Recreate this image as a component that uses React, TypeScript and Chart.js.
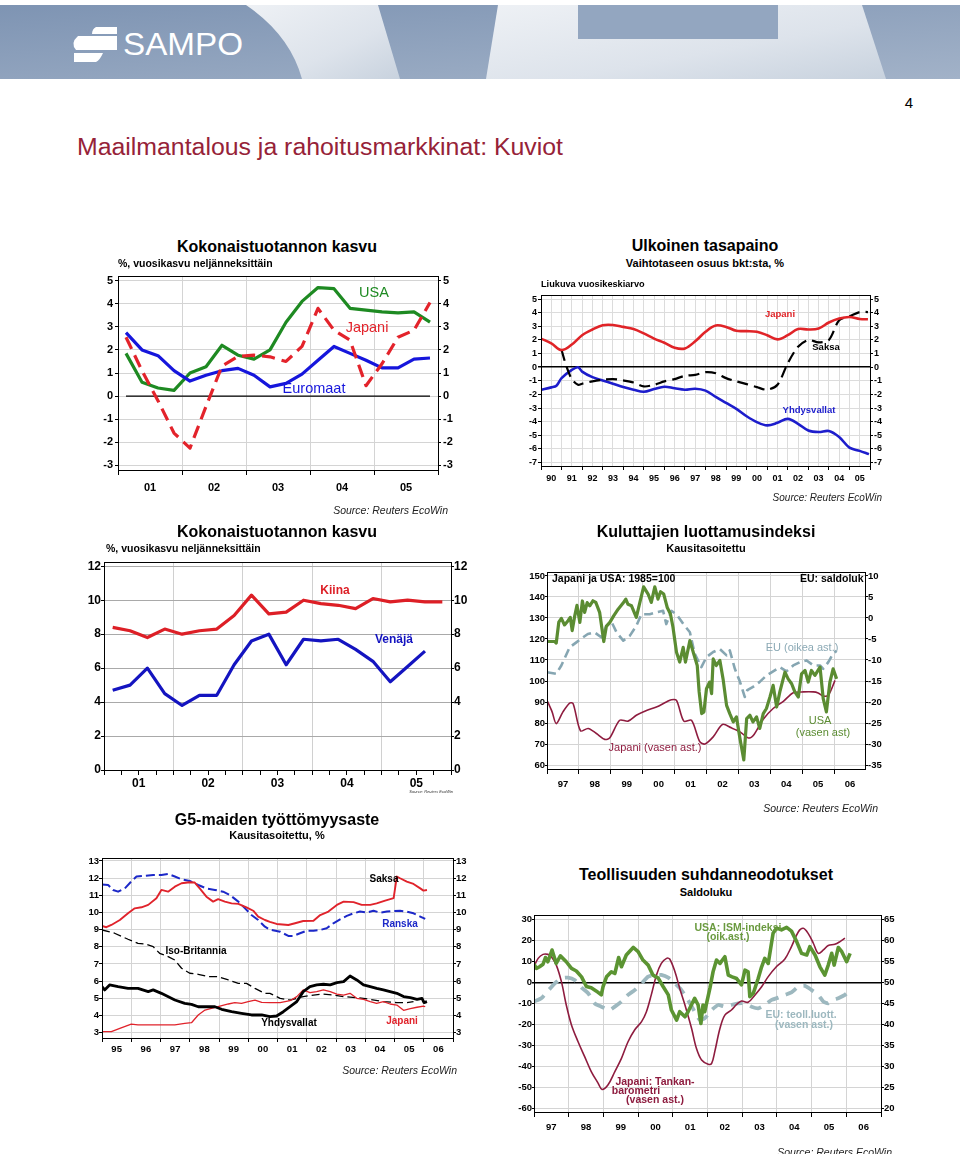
import React, { useEffect, useRef } from "react";
import { Chart, registerables } from "chart.js";
Chart.register(...registerables);

const FONT = "'Liberation Sans', Arial, Helvetica, sans-serif";
Chart.defaults.font.family = FONT;
const GRID = "#d4d4d4";
const P = 10;

// ---------------- Chart 1: Kokonaistuotannon kasvu (USA / Japani / Euromaat) ----------------
const C1_QUARTERS = [
  "2001Q1", "2001Q2", "2001Q3", "2001Q4", "2002Q1", "2002Q2", "2002Q3", "2002Q4",
  "2003Q1", "2003Q2", "2003Q3", "2003Q4", "2004Q1", "2004Q2", "2004Q3", "2004Q4",
  "2005Q1", "2005Q2", "2005Q3", "2005Q4",
];
const C1_USA = [1.85, 0.6, 0.35, 0.25, 1.0, 1.27, 2.2, 1.77, 1.6, 2.0, 3.2, 4.1, 4.7, 4.65, 3.8, 3.72, 3.65, 3.6, 3.65, 3.2];
const C1_JAPANI = [2.55, 1.1, -0.2, -1.6, -2.25, -0.45, 1.3, 1.72, 1.77, 1.7, 1.5, 2.15, 3.8, 2.85, 2.42, 0.45, 1.4, 2.55, 2.85, 4.05];
const C1_EUROMAAT = [2.75, 2.0, 1.75, 1.1, 0.65, 0.9, 1.1, 1.2, 0.9, 0.4, 0.55, 0.95, 1.55, 2.15, 1.85, 1.55, 1.22, 1.22, 1.6, 1.65];
const C1_ZERO = [0, 0];
const C1_YEARS = [2001, 2002, 2003, 2004, 2005];
const C1_YEAR_LABELS = ["01", "02", "03", "04", "05"];
const C1_Y_TICKS = [-3, -2, -1, 0, 1, 2, 3, 4, 5];

// ---------------- Chart 2: Ulkoinen tasapaino ----------------
const C2_JAPANI_X = [
  1990, 1990.5, 1991, 1991.5, 1992, 1992.5, 1993, 1993.5, 1994, 1994.5, 1995, 1995.5, 1996, 1996.5, 1997, 1997.5,
  1998, 1998.5, 1999, 1999.5, 2000, 2000.5, 2001, 2001.5, 2002, 2002.5, 2003, 2003.5, 2004, 2004.5, 2005, 2005.5, 2005.9,
];
const C2_JAPANI = [
  2.1, 1.75, 1.26, 1.67, 2.35, 2.77, 3.08, 3.1, 2.96, 2.8, 2.48, 2.1, 1.8, 1.43, 1.38, 1.9,
  2.6, 3.06, 2.96, 2.67, 2.65, 2.6, 2.35, 2.04, 2.35, 2.8, 2.77, 2.84, 3.28, 3.57, 3.69, 3.54, 3.52,
];
const C2_USA_X = [
  1990, 1990.5, 1990.75, 1991, 1991.5, 1991.8, 1992, 1992.5, 1993, 1993.5, 1994, 1994.5, 1995, 1995.5, 1996, 1996.5,
  1997, 1997.5, 1998, 1998.5, 1999, 1999.5, 2000, 2000.5, 2001, 2001.5, 2002, 2002.5, 2003, 2003.5, 2004, 2004.5,
  2005, 2005.5, 2005.95,
];
const C2_USA = [
  -1.65, -1.48, -1.36, -0.8, -0.2, 0.0, -0.32, -0.73, -0.97, -1.21, -1.46, -1.65, -1.8, -1.6, -1.43, -1.55,
  -1.65, -1.58, -1.72, -2.18, -2.62, -3.06, -3.6, -4.03, -4.27, -4.08, -3.79, -4.15, -4.64, -4.76, -4.68, -5.12,
  -5.9, -6.14, -6.38,
];
const C2_SAKSA_X = [
  1991, 1991.25, 1991.5, 1991.8, 1992, 1992.5, 1993, 1993.5, 1994, 1994.5, 1995, 1995.5, 1996, 1996.5, 1997, 1997.5,
  1998, 1998.5, 1999, 1999.5, 2000, 2000.5, 2001, 2001.5, 2002, 2002.5, 2003, 2003.5, 2004, 2004.5, 2005, 2005.5, 2005.9,
];
const C2_SAKSA = [
  1.26, 0.0, -0.87, -1.29, -1.21, -1.04, -0.92, -0.87, -0.97, -1.12, -1.41, -1.29, -1.04, -0.87, -0.63, -0.56,
  -0.36, -0.44, -0.8, -1.04, -1.24, -1.46, -1.65, -1.29, 0.29, 1.5, 2.0, 1.82, 2.0, 3.45, 3.74, 4.05, 4.05,
];
const C2_YEARS = [1990, 1991, 1992, 1993, 1994, 1995, 1996, 1997, 1998, 1999, 2000, 2001, 2002, 2003, 2004, 2005];
const C2_YEAR_LABELS = ["90", "91", "92", "93", "94", "95", "96", "97", "98", "99", "00", "01", "02", "03", "04", "05"];
const C2_Y_TICKS = [-7, -6, -5, -4, -3, -2, -1, 0, 1, 2, 3, 4, 5];

// ---------------- Chart 3: Kokonaistuotannon kasvu (Kiina / Venäjä) ----------------
const C3_QUARTERS = C1_QUARTERS;
const C3_KIINA = [8.4, 8.2, 7.8, 8.3, 8.0, 8.2, 8.3, 9.1, 10.3, 9.2, 9.3, 10.0, 9.8, 9.7, 9.5, 10.1, 9.9, 10.0, 9.9, 9.9];
const C3_VENAJA = [4.7, 5.0, 6.0, 4.5, 3.8, 4.4, 4.4, 6.2, 7.6, 8.0, 6.2, 7.7, 7.6, 7.7, 7.1, 6.4, 5.2, 6.1, 7.0];
const C3_YEARS = C1_YEARS;
const C3_YEAR_LABELS = C1_YEAR_LABELS;
const C3_Y_TICKS = [0, 2, 4, 6, 8, 10, 12];

// ---------------- Chart 4: Kuluttajien luottamusindeksi ----------------
const C4_JAPANI_X = [
  1997.0, 1997.16, 1997.29, 1997.5, 1997.71, 1997.82, 1998.05, 1998.29, 1998.55, 1998.81, 1998.97, 1999.28, 1999.54,
  1999.8, 2000.12, 2000.43, 2000.74, 2000.9, 2001.06, 2001.29, 2001.53, 2001.79, 2001.95, 2002.21, 2002.5, 2002.78,
  2003.05, 2003.31, 2003.46, 2003.78, 2004.09, 2004.41, 2004.72, 2005.03, 2005.35, 2005.5, 2005.66, 2005.82, 2006.03,
];
const C4_JAPANI = [
  90.8, 85.3, 79.7, 85.3, 89.5, 89.2, 76.3, 77.4, 75.0, 72.2, 73.0, 81.3, 80.9, 83.7, 86.0, 87.6, 90.0, 91.1, 90.8,
  80.9, 81.3, 71.1, 70.0, 73.4, 79.3, 77.7, 75.8, 72.9, 73.9, 81.8, 86.9, 90.3, 94.4, 94.8, 94.8, 94.3, 92.9, 93.2, 100.3,
];
const C4_USA_X = [
  1997.0, 1997.24, 1997.29, 1997.37, 1997.45, 1997.55, 1997.66, 1997.73, 1997.79, 1997.87,
  1997.94, 1998.03, 1998.11, 1998.18, 1998.26, 1998.34, 1998.44, 1998.53, 1998.65, 1998.78,
  1998.86, 1998.97, 1999.09, 1999.23, 1999.38, 1999.47, 1999.54, 1999.65, 1999.8, 1999.91,
  2000.03, 2000.17, 2000.27, 2000.38, 2000.48, 2000.56, 2000.66, 2000.77, 2000.87, 2000.95,
  2001.06, 2001.16, 2001.27, 2001.34, 2001.48, 2001.6, 2001.71, 2001.77, 2001.85, 2001.92,
  2002.0, 2002.1, 2002.16, 2002.21, 2002.31, 2002.42, 2002.52, 2002.63, 2002.73, 2002.84,
  2002.94, 2003.05, 2003.17, 2003.26, 2003.36, 2003.46, 2003.57, 2003.67, 2003.78, 2003.88,
  2003.99, 2004.09, 2004.2, 2004.3, 2004.46, 2004.56, 2004.67, 2004.77, 2004.88, 2004.98,
  2005.09, 2005.19, 2005.29, 2005.4, 2005.56, 2005.66, 2005.76, 2005.87, 2005.97, 2006.08,
];
const C4_USA = [
  118.8, 118.8, 118.1, 128, 129.8, 126.7, 128.7, 130.3, 124, 131,
  136, 127.9, 138.1, 132.7, 137.3, 135.8, 138.2, 137.4, 132.7, 118.8,
  126, 127.9, 131, 134.2, 137, 139, 136.5, 135.8, 130.3, 137.3,
  144.8, 141.4, 137.4, 144.8, 139, 142.5, 141.4, 135, 131.9, 125.6,
  113.7, 109, 116, 109, 119.2, 112.9, 107.4, 94.8, 84.5, 85.3,
  96.3, 99.5, 94, 110.5, 107.4, 109.8, 101, 88.4, 84.5, 80.5,
  82.9, 72.6, 62.4, 82.1, 83.7, 80.5, 82.9, 77.4, 84.5, 86.9,
  92.4, 97.9, 87.6, 94.8, 104.2, 101, 98.7, 94.8, 92.4, 103.4,
  105, 99.5, 105, 102.7, 106.6, 91.6, 85.3, 99.5, 105.8, 101,
];
const C4_EU_X = [
  1997.0, 1997.29, 1997.45, 1997.71, 1997.92, 1998.13, 1998.28, 1998.49, 1998.7, 1998.86,
  1999.02, 1999.18, 1999.39, 1999.6, 1999.8, 1999.96, 2000.22, 2000.43, 2000.64, 2000.74,
  2000.9, 2001.06, 2001.27, 2001.48, 2001.63, 2001.84, 2002.0, 2002.21, 2002.42, 2002.63,
  2002.73, 2002.89, 2003.05, 2003.2, 2003.28, 2003.46, 2003.67, 2003.88, 2004.09, 2004.3,
  2004.51, 2004.72, 2004.93, 2005.14, 2005.35, 2005.56, 2005.66, 2005.82, 2005.97, 2006.08,
];
const C4_EU = [
  -12.9, -13.3, -11.3, -7.0, -5.8, -4.6, -3.8, -3.4, -4.6, -1.9,
  -0.9, -3.4, -5.4, -4.2, -1.9, 0.9, 0.9, 1.35, 1.7, -1.45,
  1.7, 0.9, -1.4, -3.4, -8.5, -11.7, -9.3, -8.1, -7.4, -8.9,
  -7.7, -12.1, -15.2, -18.8, -17.2, -16.4, -15.2, -13.7, -12.7, -11.7,
  -12.7, -11.3, -10.5, -10.1, -11.3, -11.3, -12.1, -10.5, -8.5, -7.8,
];
const C4_YEARS = [1997, 1998, 1999, 2000, 2001, 2002, 2003, 2004, 2005, 2006];
const C4_YEAR_LABELS = ["97", "98", "99", "00", "01", "02", "03", "04", "05", "06"];
const C4_LEFT_TICKS = [60, 70, 80, 90, 100, 110, 120, 130, 140, 150];
const C4_RIGHT_TICKS = [-35, -30, -25, -20, -15, -10, -5, 0, 5, 10];

// ---------------- Chart 5: G5-maiden työttömyysaste ----------------
const C5_SAKSA_X = [
  1995.0, 1995.15, 1995.32, 1995.61, 1995.89, 1996.12, 1996.35, 1996.58, 1996.86, 1997.03, 1997.26, 1997.49, 1997.72,
  1998.0, 1998.17, 1998.34, 1998.57, 1998.8, 1998.97, 1999.2, 1999.43, 1999.66, 1999.94, 2000.17, 2000.34, 2000.57,
  2000.74, 2000.97, 2001.37, 2001.6, 2001.88, 2002.23, 2002.46, 2002.74, 2003.03, 2003.26, 2003.6, 2003.88, 2004.17,
  2004.39, 2004.68, 2004.97, 2005.08, 2005.19, 2005.42, 2005.65, 2005.88, 2005.99, 2006.11,
];
const C5_SAKSA = [
  9.21, 9.14, 9.27, 9.56, 9.95, 10.24, 10.3, 10.44, 10.83, 11.31, 11.21, 11.5, 11.7,
  11.76, 11.74, 11.4, 10.92, 10.63, 10.77, 10.63, 10.53, 10.5, 10.3, 10.1, 9.76, 9.56,
  9.45, 9.33, 9.27, 9.37, 9.5, 9.52, 9.85, 10.05, 10.44, 10.63, 10.6, 10.44, 10.44,
  10.53, 10.69, 10.83, 12.09, 11.99, 11.8, 11.66, 11.4, 11.27, 11.31,
];
const C5_RANSKA_X = [
  1995.0, 1995.21, 1995.38, 1995.55, 1995.78, 1996.0, 1996.18, 1996.46, 1996.75, 1997.03, 1997.26, 1997.49, 1997.72,
  1998.0, 1998.29, 1998.57, 1998.86, 1999.14, 1999.37, 1999.66, 1999.89, 2000.11, 2000.34, 2000.57,
  2000.74, 2001.09, 2001.37, 2001.54, 2001.77, 2002.0, 2002.23, 2002.46, 2002.68, 2002.91, 2003.14, 2003.37, 2003.6,
  2003.82, 2004.05, 2004.28, 2004.51, 2004.74, 2004.97, 2005.19, 2005.42, 2005.65, 2005.88, 2006.05,
];
const C5_RANSKA = [
  11.62, 11.6, 11.31, 11.21, 11.4, 11.8, 12.09, 12.13, 12.18, 12.18, 12.24, 12.09, 11.93,
  11.83, 11.6, 11.4, 11.31, 11.21, 11.02, 10.63, 10.24, 9.85, 9.56, 9.17,
  9.0, 8.88, 8.63, 8.63, 8.79, 8.94, 8.94, 8.98, 9.08, 9.37, 9.6, 9.8, 9.95,
  10.05, 9.99, 10.1, 9.99, 10.05, 10.09, 10.1, 10.05, 9.95, 9.76, 9.62,
];
const C5_BRITANNIA_X = [
  1995.0, 1995.43, 1995.89, 1996.23, 1996.46, 1996.75, 1996.97, 1997.26, 1997.49, 1997.72, 1998.0, 1998.29, 1998.63,
  1998.97, 1999.32, 1999.66, 1999.94, 2000.23, 2000.57, 2000.74, 2001.09, 2001.43, 2001.88, 2002.23, 2002.57, 2002.91,
  2003.26, 2003.71, 2004.17, 2004.62, 2005.08, 2005.42, 2005.65,
];
const C5_BRITANNIA = [
  8.98, 8.79, 8.44, 8.2, 8.17, 8.01, 7.62, 7.43, 7.23, 6.75, 6.46, 6.4, 6.26,
  6.26, 6.07, 5.87, 5.87, 5.58, 5.29, 5.29, 5.0, 4.9, 5.1, 5.19, 5.25, 5.19,
  5.1, 5.04, 4.94, 4.81, 4.75, 4.75, 4.81,
];
const C5_USA_X = [
  1995.0, 1995.09, 1995.26, 1995.55, 1995.89, 1996.23, 1996.58, 1996.75, 1997.03, 1997.49, 1997.83, 1998.06, 1998.29,
  1998.57, 1998.86, 1999.09, 1999.43, 1999.77, 2000.11, 2000.46, 2000.74, 2000.97, 2001.2, 2001.43, 2001.66, 2001.88,
  2002.11, 2002.34, 2002.57, 2002.8, 2003.03, 2003.26, 2003.48, 2003.71, 2003.94, 2004.17, 2004.39, 2004.62, 2004.85,
  2005.08, 2005.31, 2005.54, 2005.77, 2005.94, 2006.01, 2006.11,
];
const C5_USA = [
  5.68, 5.49, 5.78, 5.68, 5.58, 5.58, 5.39, 5.49, 5.29, 4.9, 4.71, 4.65, 4.51,
  4.51, 4.51, 4.36, 4.22, 4.13, 4.03, 4.03, 3.93, 3.97, 4.22, 4.51, 4.81, 5.39,
  5.68, 5.78, 5.82, 5.78, 5.91, 5.97, 6.3, 6.07, 5.78, 5.68, 5.58, 5.49, 5.39,
  5.29, 5.1, 5.04, 4.94, 5.0, 4.75, 4.81,
];
const C5_JAPANI_X = [
  1995.0, 1995.32, 1995.61, 1996.0, 1996.23, 1996.58, 1997.03, 1997.49, 1997.83, 1998.06, 1998.29, 1998.52, 1998.74,
  1998.97, 1999.32, 1999.54, 1999.77, 2000.0, 2000.23, 2000.46, 2000.74, 2001.09, 2001.43, 2001.66, 2001.88, 2002.11,
  2002.34, 2002.57, 2002.8, 2003.03, 2003.26, 2003.48, 2003.71, 2003.94, 2004.17, 2004.39, 2004.62, 2004.85, 2005.08,
  2005.31, 2005.54, 2005.77, 2005.99, 2006.05,
];
const C5_JAPANI = [
  3.06, 3.06, 3.25, 3.5, 3.45, 3.45, 3.45, 3.45, 3.54, 3.58, 4.03, 4.32, 4.42,
  4.51, 4.67, 4.75, 4.71, 4.81, 4.9, 4.77, 4.75, 4.75, 4.86, 5.1, 5.49, 5.33,
  5.39, 5.49, 5.39, 5.25, 5.19, 5.29, 5.0, 4.94, 4.81, 4.71, 4.81, 4.67, 4.61,
  4.3, 4.4, 4.48, 4.55, 4.51,
];
const C5_YEARS = [1995, 1996, 1997, 1998, 1999, 2000, 2001, 2002, 2003, 2004, 2005, 2006];
const C5_YEAR_LABELS = ["95", "96", "97", "98", "99", "00", "01", "02", "03", "04", "05", "06"];
const C5_Y_TICKS = [3, 4, 5, 6, 7, 8, 9, 10, 11, 12, 13];

// ---------------- Chart 6: Teollisuuden suhdanneodotukset ----------------
const C6_TANKAN_X = [
  1997.0, 1997.12, 1997.26, 1997.4, 1997.5, 1997.64, 1997.79, 1997.93, 1998.08, 1998.27,
  1998.46, 1998.65, 1998.85, 1998.96, 1999.13, 1999.33, 1999.52, 1999.71, 1999.9, 2000.1,
  2000.24, 2000.38, 2000.53, 2000.67, 2000.82, 2000.91, 2001.06, 2001.2, 2001.35, 2001.54,
  2001.68, 2001.83, 2002.02, 2002.12, 2002.21, 2002.36, 2002.5, 2002.69, 2002.84, 2002.98,
  2003.17, 2003.37, 2003.56, 2003.75, 2003.99, 2004.23, 2004.42, 2004.62, 2004.76, 2004.9,
  2005.05, 2005.19, 2005.34, 2005.48, 2005.67, 2005.82, 2005.96,
];
const C6_TANKAN = [
  7.5, 11.4, 13.3, 13.3, 12.2, 8.3, 0.3, -10.8, -20.3, -28.3,
  -35.4, -42.5, -48.1, -51, -48.9, -42.5, -36.2, -28.3, -22.7, -18.7,
  -14, -6, 3.5, 9, 11.4, 11.1, 5.1, -2.9, -10.8, -21.9,
  -31.4, -37, -39, -38.6, -33, -21.9, -15.6, -13.2, -10.5, -8.9,
  -9.5, -6, -2.1, 2.7, 7.5, 11.1, 17, 24.1, 25.7, 23.3,
  18.6, 13.8, 15.4, 17.5, 18.1, 19.4, 21,
];
const C6_ISM_X = [
  1997.0, 1997.07, 1997.16, 1997.26, 1997.33, 1997.4, 1997.52, 1997.64, 1997.76, 1997.93,
  1998.08, 1998.22, 1998.37, 1998.51, 1998.65, 1998.8, 1998.94, 1998.99, 1999.09, 1999.23,
  1999.33, 1999.44, 1999.52, 1999.66, 1999.86, 2000.0, 2000.14, 2000.29, 2000.43, 2000.58,
  2000.72, 2000.87, 2000.96, 2001.11, 2001.2, 2001.35, 2001.44, 2001.63, 2001.73, 2001.81,
  2001.87, 2001.92, 2002.07, 2002.16, 2002.26, 2002.36, 2002.5, 2002.6, 2002.71, 2002.84,
  2002.98, 2003.08, 2003.17, 2003.22, 2003.32, 2003.46, 2003.56, 2003.65, 2003.75, 2003.89,
  2003.99, 2004.13, 2004.28, 2004.42, 2004.57, 2004.71, 2004.86, 2004.95, 2005.1, 2005.24,
  2005.38, 2005.48, 2005.58, 2005.65, 2005.77, 2005.87, 2006.01, 2006.11,
];
const C6_ISM = [
  54.3, 53.3, 53.7, 54.3, 55.9, 54.9, 57.7, 54.5, 56.3, 54.9,
  53.3, 52.7, 51.3, 49, 48.7, 47.9, 47, 49, 51.3, 52.5,
  52.1, 55.9, 53.7, 56.5, 58.3, 57.3, 55.3, 54.1, 51.7, 51,
  49, 47, 43.4, 41, 43, 41.8, 43, 46.2, 44.6, 40.2,
  44.6, 43, 48.6, 52.5, 55.3, 54.5, 56.1, 51.7, 51.3, 50.9,
  49.4, 52.9, 52.5, 46.6, 47.4, 50.9, 53.7, 55.7, 54.5, 61.7,
  62.9, 62.5, 63.1, 62.2, 59.7, 56.9, 56.5, 58.5, 56.5, 53.7,
  51.7, 54.1, 56.9, 54.1, 58.3, 57.3, 54.9, 56.9,
];
const C6_EU_X = [
  1997.0, 1997.21, 1997.4, 1997.6, 1997.79, 1997.98, 1998.17, 1998.37, 1998.56, 1998.75,
  1998.94, 1999.18, 1999.33, 1999.52, 1999.71, 1999.9, 2000.1, 2000.29, 2000.48, 2000.67,
  2000.87, 2001.06, 2001.25, 2001.44, 2001.63, 2001.78, 2001.92, 2002.12, 2002.31, 2002.5,
  2002.69, 2002.88, 2003.08, 2003.27, 2003.46, 2003.65, 2003.85, 2004.04, 2004.23, 2004.42,
  2004.62, 2004.81, 2005.0, 2005.19, 2005.34, 2005.48, 2005.63, 2005.77, 2005.96, 2006.11,
];
const C6_EU = [
  -9.2, -7.6, -4.1, -0.5, 1.9, 2.2, 1.1, -2.5, -5.2, -10,
  -11.6, -13.2, -11.6, -9.2, -6, -3.7, -0.5, 2.7, 3.5, 3.5,
  2.2, -0.5, -3.7, -8.4, -14, -17.9, -17.1, -13.2, -10.8, -11.6,
  -10.8, -10, -10, -11.6, -12.4, -10.8, -8.4, -7.3, -6, -4.8,
  -2.1, -1.7, -3.7, -6, -9.2, -10, -8.4, -7.6, -6, -3.7,
];
const C6_YEARS = C4_YEARS;
const C6_YEAR_LABELS = C4_YEAR_LABELS;
const C6_LEFT_TICKS = [-60, -50, -40, -30, -20, -10, 0, 10, 20, 30];
const C6_RIGHT_TICKS = [20, 25, 30, 35, 40, 45, 50, 55, 60, 65];

// ---------------- helpers ----------------
const quarterX = (q: string) => parseInt(q.slice(0, 4), 10) + (parseInt(q.slice(5), 10) - 0.5) / 4;

function pts(xs: number[], ys: number[]) {
  return ys.map((y, i) => ({ x: xs[i], y }));
}

function line(label: string, xs: number[], ys: number[], color: string, width: number, extra: any = {}) {
  return {
    label,
    data: pts(xs, ys),
    borderColor: color,
    backgroundColor: color,
    borderWidth: width,
    pointRadius: 0,
    fill: false,
    tension: 0,
    borderJoinStyle: "round",
    ...extra,
  };
}

const frac = (v: number) => Math.round((v - Math.floor(v)) * 100) / 100;

function xScale(o: any) {
  const vals: number[] = [];
  o.years.forEach((y: number) => {
    vals.push(y, y + 0.5);
    if (o.quarterTicks) vals.push(y + 0.25, y + 0.75);
  });
  const end = o.years[o.years.length - 1] + 1;
  if (end <= o.max + 1e-6) vals.push(end);
  vals.sort((a, b) => a - b);
  return {
    type: "linear",
    position: "bottom",
    min: o.min,
    max: o.max,
    afterBuildTicks: (s: any) => {
      s.ticks = vals.map((v) => ({ value: v }));
    },
    afterFit: (s: any) => {
      s.height = o.h;
    },
    ticks: {
      autoSkip: false,
      maxRotation: 0,
      minRotation: 0,
      padding: o.pad,
      color: "#000",
      font: { size: o.font, weight: "bold", family: FONT },
      callback: (v: number) => (frac(v) === 0.5 ? o.labels[o.years.indexOf(Math.floor(v))] : ""),
    },
    grid: {
      drawOnChartArea: true,
      tickLength: o.tl,
      lineWidth: 1,
      color: (c: any) => {
        const f = frac(c.tick ? c.tick.value : 0);
        return f === 0 || (o.halfGrid && f === 0.5) ? o.grid || GRID : "rgba(0,0,0,0)";
      },
      tickColor: (c: any) => {
        const f = frac(c.tick ? c.tick.value : 0);
        return f === 0 || o.quarterTicks ? "#000" : "rgba(0,0,0,0)";
      },
    },
    border: { display: true, color: "#000", width: 1 },
  };
}

function yScale(o: any) {
  return {
    type: "linear",
    position: o.pos,
    min: o.min,
    max: o.max,
    afterBuildTicks: (s: any) => {
      s.ticks = o.ticks.map((v: number) => ({ value: v }));
    },
    afterFit: (s: any) => {
      s.width = o.w;
    },
    ticks: {
      padding: o.pad,
      color: "#000",
      font: { size: o.font, weight: "bold", family: FONT },
      callback: (v: number) => String(v),
    },
    grid: {
      drawOnChartArea: !!o.grid,
      tickLength: o.tl,
      tickColor: "#000",
      color: (c: any) => (o.zero && c.tick && c.tick.value === 0 ? "#000" : o.grid || "rgba(0,0,0,0)"),
      lineWidth: (c: any) => (o.zero && c.tick && c.tick.value === 0 ? 1.5 : 1),
    },
    border: { display: true, color: "#000", width: 1 },
  };
}

const framePlugin = {
  id: "frame",
  afterDraw(chart: any) {
    const { ctx, chartArea: a } = chart;
    ctx.save();
    ctx.strokeStyle = "#000";
    ctx.lineWidth = 1;
    ctx.strokeRect(Math.round(a.left) + 0.5, Math.round(a.top) + 0.5, Math.round(a.right - a.left), Math.round(a.bottom - a.top));
    ctx.restore();
  },
};

interface Geo { l: number; t: number; r: number; b: number; yw: number; yw2: number; xh: number; }

function makeSpec(geo: Geo, datasets: any[], scales: any) {
  return {
    geo,
    config: {
      type: "line",
      data: { datasets },
      options: {
        responsive: false,
        maintainAspectRatio: false,
        animation: false,
        events: [],
        layout: { padding: P },
        plugins: { legend: { display: false }, tooltip: { enabled: false } },
        scales,
      },
      plugins: [framePlugin],
    },
  };
}

// ---------------- chart specs ----------------
const c1x = C1_QUARTERS.map(quarterX);
const SPEC1 = makeSpec(
  { l: 118, t: 276, r: 438, b: 470, yw: 24, yw2: 24, xh: 30 },
  [
    line("Japani", c1x, C1_JAPANI, "#e3232b", 3.2, { borderDash: [13, 7] }),
    line("Euromaat", c1x, C1_EUROMAAT, "#1616dc", 3.2),
    line("USA", c1x, C1_USA, "#1e8a22", 3.2),
    line("0", [c1x[0], c1x[c1x.length - 1]], C1_ZERO, "#000", 1.2),
  ],
  {
    x: xScale({ years: C1_YEARS, labels: C1_YEAR_LABELS, min: 2001, max: 2006, h: 30, font: 11, tl: 5, pad: 6 }),
    y: yScale({ pos: "left", min: -3.2, max: 5.2, ticks: C1_Y_TICKS, w: 24, font: 11, tl: 3, pad: 2, grid: GRID }),
    y2: yScale({ pos: "right", min: -3.2, max: 5.2, ticks: C1_Y_TICKS, w: 24, font: 11, tl: 3, pad: 2 }),
  }
);

const SPEC2 = makeSpec(
  { l: 541, t: 295, r: 870, b: 466, yw: 20, yw2: 20, xh: 20 },
  [
    line("Japani", C2_JAPANI_X, C2_JAPANI, "#e02428", 2.6, { tension: 0.35 }),
    line("Saksa", C2_SAKSA_X, C2_SAKSA, "#000", 2.2, { tension: 0.3, borderDash: [11, 6] }),
    line("Yhdysvallat", C2_USA_X, C2_USA, "#1d1dcc", 2.6, { tension: 0.35 }),
  ],
  {
    x: xScale({ years: C2_YEARS, labels: C2_YEAR_LABELS, min: 1990, max: 2006, h: 20, font: 9, tl: 4, pad: 3, halfGrid: true, grid: "#dcdcdc" }),
    y: yScale({ pos: "left", min: -7.25, max: 5.3, ticks: C2_Y_TICKS, w: 20, font: 9, tl: 3, pad: 1, grid: "#dcdcdc", zero: true }),
    y2: yScale({ pos: "right", min: -7.25, max: 5.3, ticks: C2_Y_TICKS, w: 20, font: 9, tl: 3, pad: 1 }),
  }
);

const c3x = C3_QUARTERS.map(quarterX);
const SPEC3 = makeSpec(
  { l: 104, t: 562, r: 451, b: 770, yw: 22, yw2: 22, xh: 24 },
  [
    line("Kiina", c3x, C3_KIINA, "#dd1f26", 3.2),
    line("Venäjä", c3x, C3_VENAJA, "#1414c0", 3.2),
  ],
  {
    x: xScale({ years: C3_YEARS, labels: C3_YEAR_LABELS, min: 2001, max: 2006, h: 24, font: 12, tl: 5, pad: 1, quarterTicks: true, grid: "#d0d0d0" }),
    y: yScale({ pos: "left", min: 0, max: 12.25, ticks: C3_Y_TICKS, w: 22, font: 12, tl: 3, pad: 0, grid: "#a9a9a9" }),
    y2: yScale({ pos: "right", min: 0, max: 12.25, ticks: C3_Y_TICKS, w: 22, font: 12, tl: 3, pad: 0 }),
  }
);

const SPEC4 = makeSpec(
  { l: 547, t: 572, r: 865, b: 769, yw: 22, yw2: 24, xh: 24 },
  [
    line("USA", C4_USA_X, C4_USA, "#5b8c32", 3.2),
    line("Japani", C4_JAPANI_X, C4_JAPANI, "#8e1c3f", 1.6, { tension: 0.3 }),
    line("EU", C4_EU_X, C4_EU, "#86a6b2", 2.6, { yAxisID: "y2", borderDash: [9, 5] }),
  ],
  {
    x: xScale({ years: C4_YEARS, labels: C4_YEAR_LABELS, min: 1997, max: 2006.97, h: 24, font: 9.5, tl: 5, pad: 5 }),
    y: yScale({ pos: "left", min: 58.1, max: 151.9, ticks: C4_LEFT_TICKS, w: 22, font: 9.5, tl: 2, pad: 0, grid: GRID }),
    y2: yScale({ pos: "right", min: -35.95, max: 10.95, ticks: C4_RIGHT_TICKS, w: 24, font: 9.5, tl: 3, pad: 0 }),
  }
);

const SPEC5 = makeSpec(
  { l: 102, t: 858, r: 453, b: 1038, yw: 18, yw2: 18, xh: 20 },
  [
    line("Yhdysvallat", C5_USA_X, C5_USA, "#000", 2.8),
    line("Saksa", C5_SAKSA_X, C5_SAKSA, "#e0232b", 1.9),
    line("Japani", C5_JAPANI_X, C5_JAPANI, "#e0232b", 1.3),
    line("Ranska", C5_RANSKA_X, C5_RANSKA, "#1c28c8", 2.0, { borderDash: [9, 4] }),
    line("Iso-Britannia", C5_BRITANNIA_X, C5_BRITANNIA, "#000", 1.3, { borderDash: [8, 4] }),
  ],
  {
    x: xScale({ years: C5_YEARS, labels: C5_YEAR_LABELS, min: 1995, max: 2007, h: 20, font: 9.5, tl: 4, pad: 2 }),
    y: yScale({ pos: "left", min: 2.69, max: 13.17, ticks: C5_Y_TICKS, w: 18, font: 9.5, tl: 3, pad: 0, grid: GRID }),
    y2: yScale({ pos: "right", min: 2.69, max: 13.17, ticks: C5_Y_TICKS, w: 18, font: 9.5, tl: 3, pad: 0 }),
  }
);

const SPEC6 = makeSpec(
  { l: 534, t: 915, r: 881, b: 1112, yw: 24, yw2: 20, xh: 24 },
  [
    line("USA: ISM-indeksi", C6_ISM_X, C6_ISM, "#5b9432", 3.6, { yAxisID: "y2" }),
    line("Japani: Tankan-barometri", C6_TANKAN_X, C6_TANKAN, "#8e1c3f", 1.6, { tension: 0.35 }),
    line("EU: teoll.luott.", C6_EU_X, C6_EU, "#9db8bf", 3.8, { tension: 0.2, borderDash: [12, 8] }),
  ],
  {
    x: xScale({ years: C6_YEARS, labels: C6_YEAR_LABELS, min: 1997, max: 2007, h: 24, font: 9.5, tl: 5, pad: 5 }),
    y: yScale({ pos: "left", min: -61.76, max: 32.05, ticks: C6_LEFT_TICKS, w: 24, font: 9.5, tl: 2, pad: 0, grid: GRID, zero: true }),
    y2: yScale({ pos: "right", min: 19.12, max: 66.03, ticks: C6_RIGHT_TICKS, w: 20, font: 9.5, tl: 3, pad: 0 }),
  }
);

const SPECS = [SPEC1, SPEC2, SPEC3, SPEC4, SPEC5, SPEC6];

// ---------------- components ----------------
function ChartCanvas({ spec }: { spec: any }) {
  const ref = useRef<HTMLCanvasElement | null>(null);
  const g: Geo = spec.geo;
  const left = g.l - g.yw - P;
  const top = g.t - P;
  const width = g.r - g.l + g.yw + g.yw2 + 2 * P;
  const height = g.b - g.t + g.xh + 2 * P;
  useEffect(() => {
    const chart = new Chart(ref.current as HTMLCanvasElement, spec.config as any);
    return () => chart.destroy();
  }, []);
  return (
    <canvas
      ref={ref}
      width={width}
      height={height}
      style={{ position: "absolute", left, top, width, height }}
    />
  );
}

function T(props: any) {
  const { x, y, size = 11, bold = false, color = "#000", align = "center", italic = false, children } = props;
  const tx = align === "center" ? "-50%" : align === "right" ? "-100%" : "0";
  return (
    <div
      style={{
        position: "absolute",
        left: x,
        top: y,
        transform: `translate(${tx}, -50%)`,
        fontFamily: FONT,
        fontSize: size,
        fontWeight: bold ? 700 : 400,
        fontStyle: italic ? "italic" : "normal",
        color,
        whiteSpace: "nowrap",
        lineHeight: 1,
      }}
    >
      {children}
    </div>
  );
}

function Header() {
  return (
    <svg width={960} height={180} style={{ position: "absolute", left: 0, top: 0 }}>
      <defs>
        <linearGradient id="dk" x1="0" y1="0" x2="1" y2="1">
          <stop offset="0" stopColor="#7e94b3" />
          <stop offset="1" stopColor="#a2b2c8" />
        </linearGradient>
        <linearGradient id="lt" x1="0" y1="0" x2="1" y2="1">
          <stop offset="0" stopColor="#eef1f5" />
          <stop offset="0.6" stopColor="#dde3eb" />
          <stop offset="1" stopColor="#c8d2de" />
        </linearGradient>
      </defs>
      <rect x={0} y={5} width={960} height={74} fill="url(#dk)" />
      <path d="M246,5 Q290,35 302,79 L400,79 L378,5 Z" fill="url(#lt)" />
      <path d="M498,5 L486,79 L886,79 L862,5 Z" fill="url(#lt)" />
      <rect x={578} y={5} width={200} height={34} fill="#93a6c0" />
      <path d="M96,27 L117,27 L117,34 L92,34 Q92,29 96,27 Z" fill="#fff" />
      <path d="M78,36 L117,36 L117,50 L76,50 Q70,43 78,36 Z" fill="#fff" />
      <path d="M74,53 L103,53 Q100,60 96,62 L74,62 Z" fill="#fff" />
      <text x={123} y={55} fill="#fff" fontFamily={FONT} fontSize={31} textLength={120} lengthAdjust="spacingAndGlyphs">
        SAMPO
      </text>
      <text x={909} y={108} fill="#000" fontFamily={FONT} fontSize={15} textAnchor="middle">
        4
      </text>
      <text x={77} y={155} fill="#962238" fontFamily={FONT} fontSize={23} textLength={486} lengthAdjust="spacingAndGlyphs">
        Maailmantalous ja rahoitusmarkkinat: Kuviot
      </text>
    </svg>
  );
}

export default function App() {
  return (
    <div style={{ position: "absolute", left: 0, top: 0, width: 960, height: 1154, background: "#fff", overflow: "hidden" }}>
      <Header />
      {SPECS.map((s, i) => (
        <ChartCanvas key={i} spec={s} />
      ))}

      {/* Chart 1 */}
      <T x={277} y={247} size={16} bold>Kokonaistuotannon kasvu</T>
      <T x={118} y={263} size={10.5} bold align="left">%, vuosikasvu neljänneksittäin</T>
      <T x={374} y={292} size={14.5} color="#1e8a22">USA</T>
      <T x={367} y={327} size={14.5} color="#e3232b">Japani</T>
      <T x={314} y={388} size={14.5} color="#1616dc">Euromaat</T>
      <T x={448} y={510} size={10.5} italic align="right" color="#222">Source: Reuters EcoWin</T>

      {/* Chart 2 */}
      <T x={705} y={246} size={16} bold>Ulkoinen tasapaino</T>
      <T x={705} y={263} size={11} bold>Vaihtotaseen osuus bkt:sta, %</T>
      <T x={541} y={285} size={9.2} bold align="left">Liukuva vuosikeskiarvo</T>
      <T x={780} y={314} size={9.5} bold color="#e02428">Japani</T>
      <T x={826} y={347} size={9.5} bold>Saksa</T>
      <T x={809} y={410} size={9.5} bold color="#1d1dcc">Yhdysvallat</T>
      <T x={882} y={498} size={10} italic align="right" color="#222">Source: Reuters EcoWin</T>

      {/* Chart 3 */}
      <T x={277} y={532} size={16} bold>Kokonaistuotannon kasvu</T>
      <T x={106} y={548} size={10.5} bold align="left">%, vuosikasvu neljänneksittäin</T>
      <T x={335} y={590} size={12} bold color="#dd1f26">Kiina</T>
      <T x={394} y={639} size={12} bold color="#1414c0">Venäjä</T>
      <T x={453} y={792} size={4} italic align="right" color="#333">Source: Reuters EcoWin</T>

      {/* Chart 4 */}
      <T x={706} y={532} size={16} bold>Kuluttajien luottamusindeksi</T>
      <T x={706} y={548} size={11} bold>Kausitasoitettu</T>
      <T x={552} y={578} size={10.5} bold align="left">Japani ja USA: 1985=100</T>
      <T x={800} y={578} size={10.5} bold align="left">EU: saldoluk</T>
      <T x={802} y={647} size={11} color="#8ba9b5">EU (oikea ast.)</T>
      <T x={820} y={720} size={11} color="#5b8c32">USA</T>
      <T x={823} y={732} size={11} color="#5b8c32">(vasen ast)</T>
      <T x={655} y={747} size={11} color="#8e1c3f">Japani (vasen ast.)</T>
      <T x={878} y={808} size={10.5} italic align="right" color="#222">Source: Reuters EcoWin</T>

      {/* Chart 5 */}
      <T x={277} y={820} size={16} bold>G5-maiden työttömyysaste</T>
      <T x={277} y={835} size={11} bold>Kausitasoitettu, %</T>
      <T x={384} y={879} size={10} bold>Saksa</T>
      <T x={400} y={924} size={10} bold color="#1c28c8">Ranska</T>
      <T x={196} y={951} size={10} bold>Iso-Britannia</T>
      <T x={289} y={1023} size={10} bold>Yhdysvallat</T>
      <T x={402} y={1021} size={10} bold color="#e0232b">Japani</T>
      <T x={457} y={1070} size={10.5} italic align="right" color="#222">Source: Reuters EcoWin</T>

      {/* Chart 6 */}
      <T x={706} y={875} size={16} bold>Teollisuuden suhdanneodotukset</T>
      <T x={706} y={892} size={11} bold>Saldoluku</T>
      <T x={738} y={927} size={10.5} bold color="#6a9a3f">USA: ISM-indeksi</T>
      <T x={728} y={936} size={10.5} bold color="#6a9a3f">(oik.ast.)</T>
      <T x={801} y={1014} size={10.5} bold color="#9db8bf">EU: teoll.luott.</T>
      <T x={804} y={1024} size={10.5} bold color="#9db8bf">(vasen ast.)</T>
      <T x={655} y={1081} size={10.5} bold color="#8e1c3f">Japani: Tankan-</T>
      <T x={636} y={1090} size={10.5} bold color="#8e1c3f">barometri</T>
      <T x={655} y={1099} size={10.5} bold color="#8e1c3f">(vasen ast.)</T>
      <T x={892} y={1152} size={10.5} italic align="right" color="#222">Source: Reuters EcoWin</T>
    </div>
  );
}
